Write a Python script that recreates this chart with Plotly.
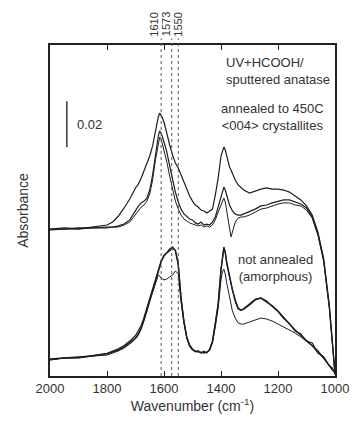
import plotly.graph_objects as go

# Wavenumber grid (cm^-1)
wn = [2000, 1950, 1900, 1850, 1800, 1780, 1760, 1740, 1720, 1700,
      1690, 1680, 1670, 1660, 1650, 1640, 1630, 1620, 1615, 1610,
      1600, 1590, 1580, 1570, 1560, 1550, 1540, 1530, 1520, 1510,
      1500, 1490, 1480, 1470, 1460, 1450, 1440, 1430, 1420, 1410,
      1400, 1395, 1390, 1385, 1380, 1370, 1365, 1360, 1350, 1340,
      1330, 1320, 1300, 1280, 1260, 1240, 1220, 1200, 1180, 1160,
      1140, 1120, 1100, 1080, 1060, 1040, 1020, 1010, 1000]

# Absorbance (mAbs, offset stacked) - annealed to 450C (upper group)
ann_a = [63.9, 64.4, 64.0, 64.8, 65.7, 67.0, 69.6, 73.1, 77.0, 81.8,
         83.5, 86.1, 89.2, 92.7, 95.7, 100.1, 106.6, 112.7, 114.4, 113.5,
         110.5, 104.8, 100.5, 96.1, 92.7, 90.5, 87.4, 84.4, 80.9, 78.3,
         76.1, 74.4, 73.5, 72.2, 71.8, 70.9, 71.8, 72.6, 78.7, 86.1,
         95.7, 98.3, 99.6, 98.3, 95.7, 90.9, 89.6, 87.9, 85.3, 83.1,
         81.8, 80.9, 79.6, 80.5, 81.3, 81.8, 81.3, 81.3, 80.9, 80.0,
         78.3, 76.6, 74.0, 70.0, 62.6, 51.3, 30.9, 15.7, 1.7]
ann_b = [63.9, 63.9, 64.4, 64.4, 64.8, 64.8, 65.3, 66.1, 67.9, 72.2,
         73.9, 75.3, 76.1, 77.4, 80.9, 87.4, 96.1, 104.4, 106.6, 105.7,
         101.8, 97.4, 91.4, 85.3, 80.0, 75.7, 72.6, 70.5, 69.2, 68.3,
         67.9, 66.6, 66.1, 67.0, 65.7, 66.1, 65.7, 67.0, 69.2, 73.5,
         78.7, 80.9, 82.2, 80.9, 78.3, 74.4, 73.1, 71.8, 70.5, 70.0,
         70.0, 70.5, 71.3, 72.6, 74.0, 74.4, 75.3, 76.1, 76.6, 76.6,
         75.7, 74.8, 73.1, 69.2, 61.8, 50.5, 30.0, 14.8, 0.9]
ann_c = [63.5, 63.9, 63.9, 64.4, 64.4, 64.8, 64.8, 65.7, 67.0, 70.5,
         72.2, 73.5, 74.4, 76.1, 79.2, 85.3, 94.0, 101.8, 104.0, 103.1,
         98.3, 93.1, 87.0, 80.9, 76.1, 72.6, 70.0, 68.3, 67.4, 66.6,
         66.1, 65.7, 65.3, 65.7, 64.8, 65.3, 64.8, 65.7, 67.9, 71.3,
         74.8, 76.6, 77.4, 75.7, 72.2, 64.4, 60.5, 62.6, 67.0, 68.7,
         69.2, 69.2, 70.0, 71.3, 72.6, 73.1, 74.0, 74.8, 75.3, 75.3,
         74.4, 74.0, 72.2, 68.7, 61.3, 50.0, 29.6, 14.4, 0.4]

# Not annealed (amorphous) - lower group
amo_d = [7.4, 7.8, 8.3, 8.7, 9.6, 10.4, 11.3, 12.6, 14.4, 16.5,
         18.3, 20.9, 24.4, 28.7, 33.1, 36.5, 40.9, 45.7, 47.9, 49.6,
         52.2, 53.9, 55.2, 56.1, 54.4, 48.3, 33.1, 23.5, 16.5, 13.1,
         11.3, 10.9, 10.4, 10.4, 10.0, 10.4, 11.3, 14.8, 22.2, 30.9,
         46.1, 52.6, 56.1, 53.9, 49.6, 43.5, 40.5, 37.4, 33.1, 29.6,
         28.7, 29.1, 30.9, 33.1, 33.9, 32.2, 30.5, 28.3, 25.2, 22.6,
         20.0, 17.8, 15.7, 13.5, 10.9, 7.8, 4.8, 3.0, 1.3]
amo_e = [7.0, 7.9, 8.0, 9.0, 9.9, 10.9, 11.8, 13.3, 15.2, 17.6,
         19.6, 22.0, 25.6, 29.8, 34.4, 37.6, 41.8, 46.4, 48.6, 50.2,
         52.6, 53.6, 54.6, 55.4, 54.8, 49.0, 34.0, 24.0, 17.0, 13.5,
         11.8, 10.6, 10.9, 10.0, 10.8, 10.1, 11.6, 15.3, 22.8, 31.5,
         46.5, 52.3, 55.4, 53.5, 49.0, 43.0, 40.0, 37.0, 32.4, 29.2,
         28.5, 29.4, 31.4, 33.4, 34.0, 32.6, 30.2, 28.0, 25.0, 22.9,
         19.6, 18.3, 15.2, 14.4, 10.0, 8.4, 4.4, 3.6, 1.0]
amo_f = [7.0, 7.8, 7.8, 8.7, 9.1, 10.0, 10.9, 12.2, 13.9, 16.1,
         17.8, 20.4, 23.9, 28.3, 32.6, 36.5, 40.5, 43.9, 43.5, 42.6,
         41.8, 42.2, 43.1, 43.9, 45.7, 44.4, 32.2, 23.1, 16.5, 13.1,
         11.3, 10.4, 10.9, 10.0, 10.4, 10.0, 11.3, 14.4, 21.3, 29.6,
         41.8, 45.2, 46.5, 44.4, 40.5, 33.9, 30.9, 28.3, 25.2, 23.1,
         22.6, 22.6, 23.5, 24.4, 25.2, 24.8, 23.9, 22.6, 21.3, 20.0,
         18.7, 17.0, 15.2, 13.1, 10.0, 7.8, 4.4, 2.6, 1.7]

# Marker positions (cm^-1) and labels
marker_wn = [1610, 1573, 1550]
marker_lbl = ["1610", "1573", "1550"]
marker_shift = [-7, -5, 0]

# Scale bar: 0.02 absorbance = 20 mAbs
scale_x = 1941
scale_y0 = 99.5
scale_len = 20.0
scale_lbl = "0.02"

x_ticks = [2000, 1800, 1600, 1400, 1200, 1000]

FONT = "Liberation Sans, Arial, sans-serif"
LINE = "#1e1e1e"
TXT = "#333333"

fig = go.Figure()
for ys, w in [(ann_a, 1.2), (ann_b, 1.2), (ann_c, 1.0),
              (amo_d, 1.4), (amo_e, 1.2), (amo_f, 1.0)]:
    fig.add_trace(go.Scatter(x=wn, y=ys, mode="lines",
                             line=dict(color=LINE, width=w),
                             showlegend=False, hoverinfo="skip"))

fig.add_trace(go.Scatter(x=[scale_x, scale_x], y=[scale_y0, scale_y0 + scale_len],
                         mode="lines", line=dict(color="#444", width=1.6),
                         showlegend=False, hoverinfo="skip"))

shapes = []
annotations = []
for w, lbl, sh in zip(marker_wn, marker_lbl, marker_shift):
    shapes.append(dict(type="line", xref="x", yref="paper", x0=w, x1=w,
                       y0=0, y1=1.02, line=dict(color="#555", width=1, dash="dot")))
    annotations.append(dict(x=w, y=1.062, xref="x", yref="paper", text=lbl,
                            showarrow=False, textangle=-90, xshift=sh,
                            font=dict(family=FONT, size=11, color=TXT),
                            xanchor="center", yanchor="middle"))

annotations += [
    dict(x=1911, y=scale_y0 + scale_len / 2, xref="x", yref="y", text=scale_lbl,
         showarrow=False, xanchor="left", yanchor="middle",
         font=dict(family=FONT, size=13, color=TXT)),
    dict(x=0.609, y=0.920, xref="paper", yref="paper",
         text="UV+HCOOH/<br>sputtered anatase", showarrow=False,
         xanchor="left", yanchor="middle", align="left",
         font=dict(family=FONT, size=13, color=TXT)),
    dict(x=0.781, y=0.782, xref="paper", yref="paper",
         text="annealed to 450C<br>&lt;004&gt; crystallites", showarrow=False,
         xanchor="center", yanchor="middle", align="center",
         font=dict(family=FONT, size=13, color=TXT)),
    dict(x=0.791, y=0.326, xref="paper", yref="paper",
         text="not annealed<br>(amorphous)", showarrow=False,
         xanchor="center", yanchor="middle", align="center",
         font=dict(family=FONT, size=13, color=TXT)),
]

fig.update_layout(
    width=361, height=428,
    margin=dict(l=50, r=15, t=45, b=52),
    paper_bgcolor="white", plot_bgcolor="white",
    shapes=shapes, annotations=annotations,
    xaxis=dict(range=[2000, 1000], tickvals=x_ticks, ticks="inside", ticklen=5,
               tickcolor="#222", mirror="ticks", showline=True, linecolor="#222",
               linewidth=1.5, showgrid=False, zeroline=False,
               tickfont=dict(family=FONT, size=13, color=TXT),
               title=dict(text="Wavenumber (cm<sup>-1</sup>)", standoff=6,
                          font=dict(family=FONT, size=14, color=TXT))),
    yaxis=dict(range=[0, 144], showticklabels=False, ticks="", showline=True,
               mirror=True, linecolor="#222", linewidth=1.5, showgrid=False,
               zeroline=False,
               title=dict(text="Absorbance", standoff=16,
                          font=dict(family=FONT, size=14, color=TXT))),
)

fig.write_html("out.html")
